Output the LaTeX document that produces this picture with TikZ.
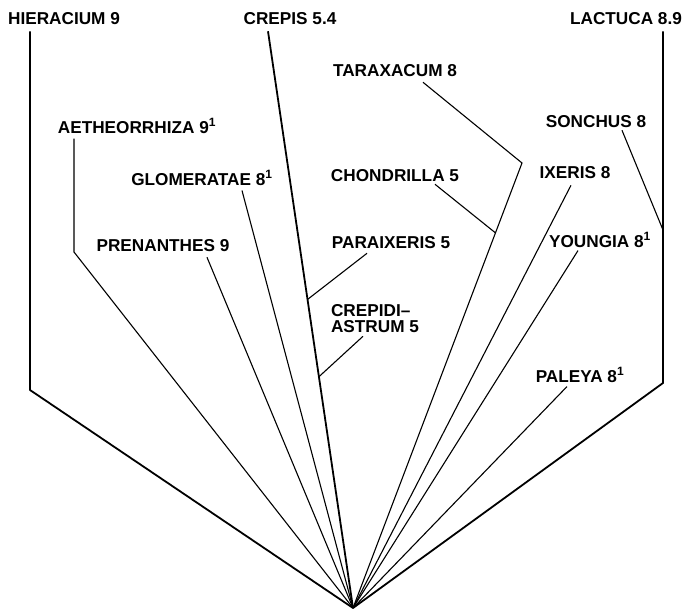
\documentclass[tikz,border=0pt]{standalone}
\usepackage{fontspec}
\setmainfont{Liberation Sans}
\usetikzlibrary{calc}

\begin{document}
\begin{tikzpicture}[x=1pt,y=-1pt,
		taxon/.style={font=\bfseries\fontsize{17.2}{16}\selectfont, inner sep=0pt, align=left},
		stem/.style={line width=1.8pt, line join=round},
		twig/.style={line width=1.1pt}]

	\useasboundingbox (0,0) rectangle (691,612);

	\node[taxon] (hier) at (64,19) {HIERACIUM 9};
	\node[taxon] (crep) at (290,19) {CREPIS 5.4};
	\node[taxon] (lact) at (626,19) {LACTUCA 8.9};
	\node[taxon] (tarax) at (395,71) {TARAXACUM 8};
	\node[taxon] (aeth) at (137,126) {AETHEORRHIZA 9\textsuperscript{1}};
	\node[taxon] (sonch) at (596,122) {SONCHUS 8};
	\node[taxon] (glom) at (202,178) {GLOMERATAE 8\textsuperscript{1}};
	\node[taxon] (chond) at (395,176) {CHONDRILLA 5};
	\node[taxon] (ixer) at (575,173) {IXERIS 8};
	\node[taxon] (pren) at (163,246) {PRENANTHES 9};
	\node[taxon] (parax) at (391,243) {PARAIXERIS 5};
	\node[taxon] (young) at (600,240) {YOUNGIA 8\textsuperscript{1}};
	\node[taxon] (crepid) at (375,319) {CREPIDI--\\ASTRUM 5};
	\node[taxon] (paley) at (580,375) {PALEYA 8\textsuperscript{1}};

	\coordinate (root) at (353,608);
	\coordinate (hc) at (30,390);
	\coordinate (lc) at (663,383);
	\coordinate (ac) at (74,252);
	\coordinate (tc) at (522,163);
	\coordinate (sc) at (663,230);
	\coordinate (cs) at ([xshift=-22pt,yshift=-6pt]crep.south);

	\draw[stem] ([yshift=-6pt]hier.south -| hc) -- (hc) -- (root) -- (lc) -- ([yshift=-6pt]lact.south -| lc);
	\draw[stem] (cs) -- (root);

	\draw[twig] ([xshift=26pt,yshift=-2pt]sonch.south) -- (sc);
	\draw[twig] ([xshift=-24pt,yshift=-4pt]parax.south) -- ($(cs)!0.465!(root)$);
	\draw[twig] ([xshift=-12pt,yshift=-3pt]crepid.south) -- ($(cs)!0.599!(root)$);
	\draw[twig] ([xshift=28pt,yshift=-5pt]tarax.south) -- (tc) -- (root);
	\draw[twig] ([xshift=40pt,yshift=-2pt]chond.south) -- ($(tc)!0.157!(root)$);
	\draw[twig] ([xshift=-4pt,yshift=-6pt]ixer.south) -- (root);
	\draw[twig] ([xshift=-22pt,yshift=-3pt]young.south) -- (root);
	\draw[twig] ([xshift=-13pt,yshift=-4pt]paley.south) -- (root);
	\draw[twig] ([yshift=-5pt]aeth.south -| ac) -- (ac) -- (root);
	\draw[twig] ([xshift=44pt,yshift=-5pt]pren.south) -- (root);
	\draw[twig] ([xshift=40pt,yshift=-5pt]glom.south) -- (root);

\end{tikzpicture}
\end{document}
